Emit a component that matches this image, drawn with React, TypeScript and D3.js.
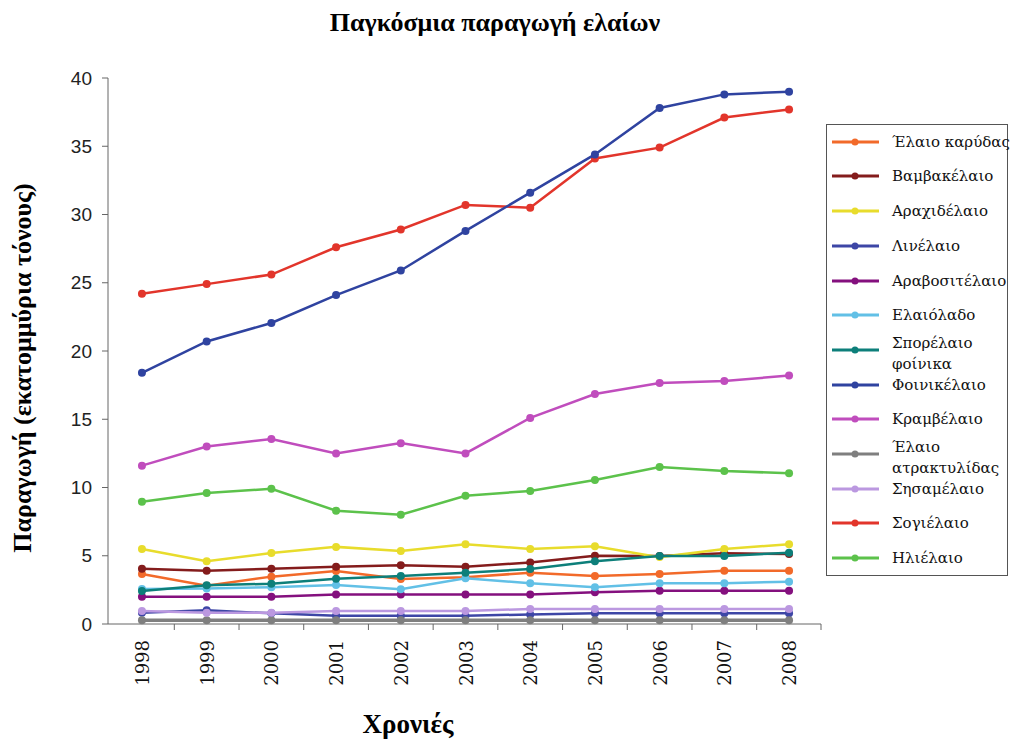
import React from "react";
import * as d3 from "d3";

const years = ["1998","1999","2000","2001","2002","2003","2004","2005","2006","2007","2008"];
const yTicks = [0,5,10,15,20,25,30,35,40];

const seriesNames = [
  "Έλαιο καρύδας","Βαμβακέλαιο","Αραχιδέλαιο","Λινέλαιο","Αραβοσιτέλαιο","Ελαιόλαδο",
  "Σπορέλαιο φοίνικα","Φοινικέλαιο","Κραμβέλαιο","Έλαιο ατρακτυλίδας","Σησαμέλαιο","Σογιέλαιο","Ηλιέλαιο"
];
const seriesColors = [
  "#f26a2a","#841c1c","#e8dc2c","#3d46a6","#84107e","#62c0e6",
  "#0d7f7a","#2f43a0","#c04dbd","#7f7f7f","#bb98e0","#e2352b","#5cc24b"
];
const coconut = [3.66,2.8,3.47,3.88,3.3,3.42,3.76,3.52,3.66,3.9,3.9];
const cottonseed = [4.05,3.9,4.05,4.2,4.3,4.2,4.5,5.0,4.98,5.18,5.13];
const peanut = [5.5,4.6,5.2,5.65,5.35,5.85,5.5,5.7,4.9,5.5,5.85];
const linseed = [0.83,1.0,0.78,0.6,0.6,0.6,0.7,0.78,0.78,0.78,0.78];
const corn = [2.0,2.0,2.0,2.17,2.17,2.17,2.17,2.32,2.44,2.44,2.44];
const olive = [2.56,2.6,2.69,2.86,2.54,3.35,2.98,2.69,2.98,2.98,3.1];
const palmKernel = [2.42,2.83,2.95,3.32,3.52,3.76,4.03,4.6,4.98,4.98,5.22];
const palm = [18.4,20.7,22.05,24.1,25.9,28.8,31.6,34.4,37.8,38.8,39.0];
const rapeseed = [11.6,13.0,13.55,12.5,13.25,12.5,15.1,16.85,17.65,17.8,18.2];
const safflower = [0.27,0.27,0.27,0.27,0.27,0.27,0.27,0.27,0.27,0.27,0.27];
const sesame = [0.95,0.83,0.83,0.95,0.95,0.95,1.1,1.1,1.1,1.1,1.1];
const soybean = [24.2,24.9,25.6,27.6,28.9,30.7,30.5,34.1,34.9,37.1,37.7];
const sunflower = [8.95,9.6,9.9,8.3,8.0,9.4,9.75,10.55,11.5,11.2,11.05];

const seriesValues = [coconut,cottonseed,peanut,linseed,corn,olive,palmKernel,palm,rapeseed,safflower,sesame,soybean,sunflower];

const SERIF = "'Liberation Serif', serif";
const REGSERIF = "'DejaVu Serif'";
const SANS = "'Liberation Sans', Arial, sans-serif";

export default function App() {
  const W = 1012, H = 742;
  const left = 108, right = 821, top = 78, bottom = 624;
  const x = d3.scalePoint<string>().domain(years).range([109.6, 821.4]).padding(0.5);
  const y = d3.scaleLinear().domain([0, 40]).range([bottom, top]);
  const step = x.step();
  const line = d3.line<number>().x((_, i) => x(years[i]) as number).y(d => y(d));

  const order = seriesNames.map((_, i) => i).filter(i => i !== 7);
  order.push(7);

  const legendYs = [142,176,211,246,281,315,350,385,419,454,489,523,558];
  const twoLine: Record<number, string[]> = { 6: ["Σπορέλαιο", "φοίνικα"], 9: ["Έλαιο", "ατρακτυλίδας"] };

  return (
    <svg width={W} height={H} style={{ position: "absolute", left: 0, top: 0, background: "#fff" }}>
      <rect x={0} y={0} width={W} height={H} fill="#fff" />
      <text x={495} y={31} textAnchor="middle" fontFamily={SERIF} fontWeight="bold" fontSize={26}>Παγκόσμια παραγωγή ελαίων</text>

      {/* y axis */}
      <line x1={left} x2={left} y1={top} y2={bottom} stroke="#666" strokeWidth={1} />
      {yTicks.map(t => (
        <g key={t}>
          <line x1={left - 6} x2={left} y1={y(t)} y2={y(t)} stroke="#666" />
          <text x={92} y={y(t)} dy="0.35em" textAnchor="end" fontFamily={SANS} fontSize={19} fill="#222">{t}</text>
        </g>
      ))}
      {/* x axis */}
      <line x1={left} x2={right} y1={bottom} y2={bottom} stroke="#666" strokeWidth={1} />
      {years.slice(1).map(yr => {
        const tx = (x(yr) as number) - step / 2;
        return <line key={yr} x1={tx} x2={tx} y1={bottom} y2={bottom + 6} stroke="#666" />;
      })}
      <line x1={right} x2={right} y1={bottom} y2={bottom + 6} stroke="#666" />
      {years.map(yr => (
        <text key={yr} transform={`translate(${(x(yr) as number) + 7},${640}) rotate(-90)`} textAnchor="end"
          fontFamily={REGSERIF} fontSize={18} fill="#111">{yr}</text>
      ))}
      <text x={408} y={733} textAnchor="middle" fontFamily={SERIF} fontWeight="bold" fontSize={27}>Χρονιές</text>
      <text transform={`translate(31,368) rotate(-90)`} textAnchor="middle" fontFamily={SERIF} fontWeight="bold" fontSize={26}>Παραγωγή (εκατομμύρια τόνους)</text>

      {/* series */}
      {order.map(i => (
        <g key={seriesNames[i]}>
          <path d={line(seriesValues[i]) || ""} fill="none" stroke={seriesColors[i]} strokeWidth={i === 9 ? 3.5 : 2.5} />
          {seriesValues[i].map((v, j) => (
            <circle key={j} cx={x(years[j]) as number} cy={y(v)} r={4} fill={seriesColors[i]} />
          ))}
        </g>
      ))}

      {/* legend */}
      <rect x={826.5} y={124.5} width={181} height={451} fill="#fff" stroke="#555" strokeWidth={1} />
      {seriesNames.map((n, i) => {
        const ly = legendYs[i];
        const lines = twoLine[i];
        return (
          <g key={n}>
            <line x1={832} x2={879} y1={ly} y2={ly} stroke={seriesColors[i]} strokeWidth={3} />
            <circle cx={855} cy={ly} r={3.5} fill={seriesColors[i]} />
            {lines ? (
              <text fontFamily={REGSERIF} fontSize={15} fill="#111">
                <tspan x={892} y={ly - 2}>{lines[0]}</tspan>
                <tspan x={892} y={ly + 19}>{lines[1]}</tspan>
              </text>
            ) : (
              <text x={892} y={ly + 5} fontFamily={REGSERIF} fontSize={15} fill="#111">{n}</text>
            )}
          </g>
        );
      })}
    </svg>
  );
}
